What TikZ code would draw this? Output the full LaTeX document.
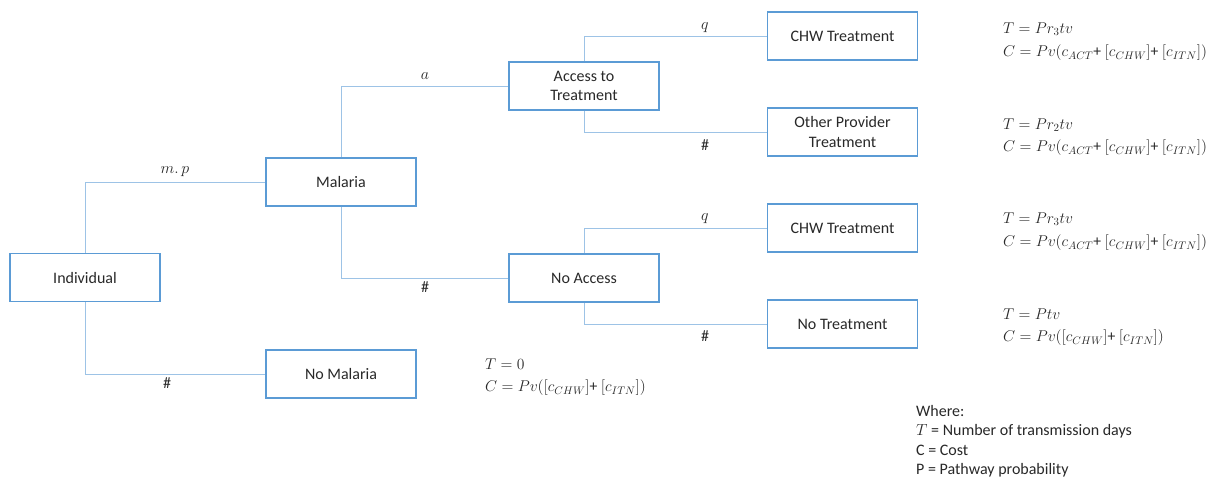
\documentclass[tikz,border=0pt]{standalone}
\usepackage{fix-cm}
\usepackage{fontspec}
\setmainfont{Carlito}
\definecolor{boxblue}{RGB}{91,155,213}
\definecolor{lineblue}{RGB}{157,195,230}
\definecolor{txt}{RGB}{40,40,40}
\begin{document}
\begin{tikzpicture}[x=1pt,y=-1pt,
  box/.style={draw=boxblue,line width=1.3pt,minimum width=150pt,minimum height=48pt,
    align=center,text=txt,font=\fontsize{16}{19.5}\selectfont,inner sep=0pt},
  conn/.style={draw=lineblue,line width=1pt},
  lbl/.style={text=txt,font=\fontsize{16}{19}\selectfont,inner sep=0pt},
  fml/.style={anchor=west,text=txt,font=\fontsize{15.6}{19}\selectfont,inner sep=0pt},
  leg/.style={anchor=west,text=txt,font=\fontsize{16}{19}\selectfont,inner sep=0pt}]
\useasboundingbox (0,0) rectangle (1213,480);
% boxes
\node[box] (ind) at (85,277.5) {Individual};
\node[box] (mal) at (341,182) {Malaria};
\node[box] (nomal) at (341,374) {No Malaria};
\node[box] (acc) at (584,86) {Access to\\Treatment};
\node[box] (noacc) at (584,278) {No Access};
\node[box] (chw1) at (842.5,36) {CHW Treatment};
\node[box] (other) at (842.5,132) {Other Provider\\Treatment};
\node[box] (chw2) at (842.5,228) {CHW Treatment};
\node[box] (notr) at (842.5,324) {No Treatment};
% connectors
\draw[conn] (ind.north) |- (mal.west);
\draw[conn] (ind.south) |- (nomal.west);
\draw[conn] (mal.north) |- (acc.west);
\draw[conn] (mal.south) |- (noacc.west);
\draw[conn] (acc.north) |- (chw1.west);
\draw[conn] (acc.south) |- (other.west);
\draw[conn] (noacc.north) |- (chw2.west);
\draw[conn] (noacc.south) |- (notr.west);
% labels
\node[lbl] (lmp) at (175,172) {$m.\,p$};
\node[lbl] (lh1) at (167,383) {\#};
\node[lbl] (la) at (425,76) {$a$};
\node[lbl] (lh2) at (425,287) {\#};
\node[lbl] (lq1) at (705,28) {$q$};
\node[lbl] (lh3) at (705,145) {\#};
\node[lbl] (lq2) at (705,219) {$q$};
\node[lbl] (lh4) at (705,336) {\#};
% formulas
\node[fml] (t1) at (1003,29) {$T = Pr_3tv$};
\node[fml] (c1) at (1003,53) {$C = Pv(c_{ACT}$+ $[c_{CHW}]$+ $[c_{ITN}])$};
\node[fml] (t2) at (1003,125) {$T = Pr_2tv$};
\node[fml] (c2) at (1003,148) {$C = Pv(c_{ACT}$+ $[c_{CHW}]$+ $[c_{ITN}])$};
\node[fml] (t3) at (1003,219) {$T = Pr_3tv$};
\node[fml] (c3) at (1003,243) {$C = Pv(c_{ACT}$+ $[c_{CHW}]$+ $[c_{ITN}])$};
\node[fml] (t4) at (1003,314) {$T = Ptv$};
\node[fml] (c4) at (1003,338) {$C = Pv([c_{CHW}]$+ $[c_{ITN}])$};
\node[fml] (t5) at (485,364) {$T = 0$};
\node[fml] (c5) at (485,388) {$C = Pv([c_{CHW}]$+ $[c_{ITN}])$};
% legend
\node[leg] (w0) at (916,411) {Where:};
\node[leg] (w1) at (916,431) {$T$ = Number of transmission days};
\node[leg] (w2) at (916,450.5) {C = Cost};
\node[leg] (w3) at (916,470) {P = Pathway probability};
\end{tikzpicture}
\end{document}
